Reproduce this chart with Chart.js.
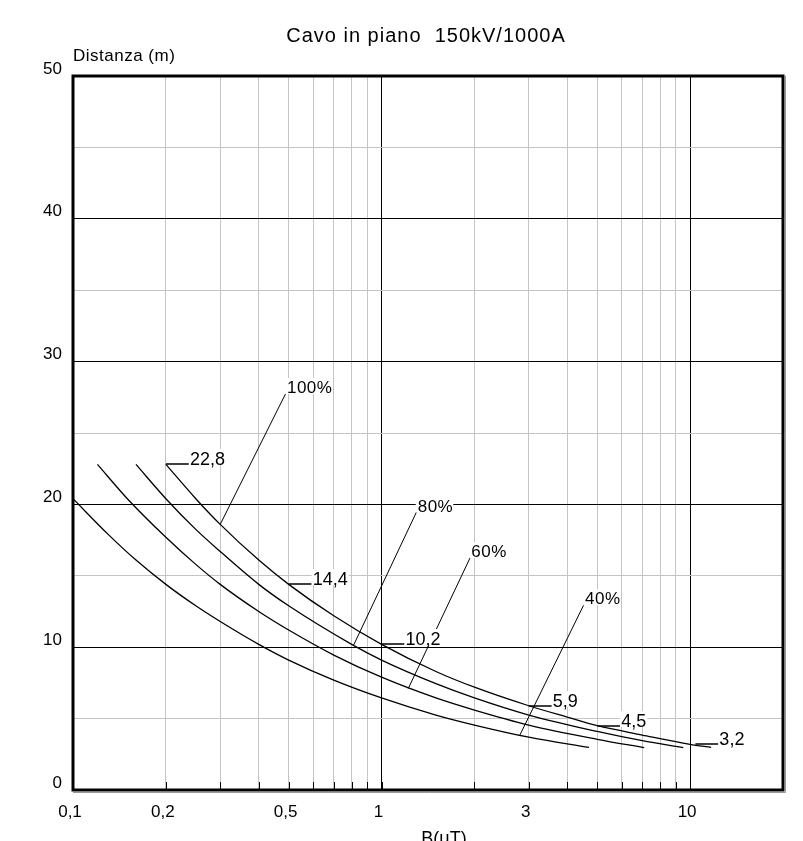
<!DOCTYPE html>
<html lang="it">
<head>
<meta charset="UTF-8">
<title>Cavo in piano 150kV/1000A</title>
<script src="https://cdn.jsdelivr.net/npm/chart.js@4"></script>
<style>
  html, body { margin: 0; padding: 0; background: #fff; }
  canvas { display: block; }
</style>
</head>
<body>
<canvas id="chart" width="803" height="841"></canvas>
<script>
// testi
const titleText = 'Cavo in piano  150kV/1000A';
const yTitle = 'Distanza (m)';
const xTitle = 'B(\u03BCT)';

// assi
const xGridValues = [0.1, 0.2, 0.3, 0.4, 0.5, 0.6, 0.7, 0.8, 0.9, 1, 2, 3, 4, 5, 6, 7, 8, 9, 10, 20];
const xTickValues = [0.1, 0.2, 0.5, 1, 3, 10];
const xTickText = ['0,1', '0,2', '0,5', '1', '3', '10'];
const yTickValues = [0, 10, 20, 30, 40, 50];

// curve: B (uT) e distanza (m)
const curveNames = ['100%', '80%', '60%', '40%'];
const b100 = [0.2, 0.25, 0.3, 0.4, 0.5, 0.7, 1, 1.5, 2, 3, 4, 5, 7, 10, 11.7];
const d100 = [22.8, 20.4, 18.6, 16.1, 14.4, 12.2, 10.2, 8.3, 7.2, 5.9, 5.1, 4.5, 3.85, 3.2, 2.98];
const b80 = [0.16, 0.2, 0.25, 0.3, 0.4, 0.5, 0.8, 1, 1.5, 2, 3, 5, 7, 9.5];
const d80 = [22.8, 20.4, 18.25, 16.7, 14.4, 12.9, 10.2, 9.1, 7.45, 6.45, 5.25, 4.1, 3.45, 2.96];
const b60 = [0.12, 0.15, 0.2, 0.25, 0.3, 0.4, 0.5, 0.7, 1, 1.5, 2, 3, 5, 7.1];
const d60 = [22.8, 20.4, 17.7, 15.8, 14.4, 12.5, 11.2, 9.45, 7.9, 6.45, 5.6, 4.55, 3.55, 2.97];
const b40 = [0.1, 0.13, 0.16, 0.2, 0.25, 0.3, 0.4, 0.5, 0.7, 1, 1.5, 2, 3, 4.7];
const d40 = [20.4, 17.9, 16.1, 14.4, 12.9, 11.8, 10.2, 9.1, 7.7, 6.45, 5.25, 4.55, 3.7, 2.98];

// valori indicati sulla curva 100%
const valueB = [0.2, 0.5, 1, 3, 5, 10.4];
const valueD = [22.8, 14.4, 10.2, 5.9, 4.5, 3.2];
const valueText = ['22,8', '14,4', '10,2', '5,9', '4,5', '3,2'];

// richiami delle percentuali: estremo alto e punto sulla curva
const pctTopB = [0.49, 1.30, 1.94, 4.53];
const pctTopD = [27.8, 19.5, 16.3, 13.0];
const pctCurveB = [0.3, 0.81, 1.22, 2.8];
const pctCurveD = [18.6, 10.1, 7.1, 3.8];

const FONT = '"Liberation Sans", Arial, sans-serif';

function toPoints(bs, ds) {
  return bs.map((b, i) => ({ x: b, y: ds[i] }));
}

const series = [[b100, d100], [b80, d80], [b60, d60], [b40, d40]];

const extras = {
  id: 'extras',
  afterDatasetsDraw(chart) {
    const { ctx, chartArea: a, scales: { x, y } } = chart;
    ctx.save();

    // tacche interne sull'asse x
    ctx.strokeStyle = '#000';
    ctx.lineWidth = 1;
    xGridValues.forEach(v => {
      const px = Math.round(x.getPixelForValue(v)) + 0.5;
      ctx.beginPath(); ctx.moveTo(px, a.bottom); ctx.lineTo(px, a.bottom - 8); ctx.stroke();
    });

    // richiami percentuali
    ctx.font = '17px ' + FONT;
    ctx.letterSpacing = '0.5px';
    ctx.textBaseline = 'alphabetic';
    ctx.textAlign = 'left';
    curveNames.forEach((t, i) => {
      const x0 = x.getPixelForValue(pctTopB[i]), y0 = y.getPixelForValue(pctTopD[i]);
      const x1 = x.getPixelForValue(pctCurveB[i]), y1 = y.getPixelForValue(pctCurveD[i]);
      ctx.strokeStyle = '#000';
      ctx.lineWidth = 1;
      ctx.beginPath(); ctx.moveTo(x0, y0); ctx.lineTo(x1, y1); ctx.stroke();
      const w = ctx.measureText(t).width;
      ctx.fillStyle = '#fff';
      ctx.fillRect(x0 - 1, y0 - 15, w + 2, 16);
      ctx.fillStyle = '#000';
      ctx.fillText(t, x0 + 1, y0);
    });

    // valori sulla curva 100%
    ctx.font = '18px ' + FONT;
    ctx.letterSpacing = '0px';
    valueText.forEach((t, i) => {
      const x0 = x.getPixelForValue(valueB[i]), y0 = Math.round(y.getPixelForValue(valueD[i]));
      ctx.lineWidth = 1.5;
      ctx.beginPath(); ctx.moveTo(x0, y0); ctx.lineTo(x0 + 23, y0); ctx.stroke();
      const w = ctx.measureText(t).width;
      ctx.fillStyle = '#fff';
      ctx.fillRect(x0 + 23, y0 - 15, w + 2, 16);
      ctx.fillStyle = '#000';
      ctx.fillText(t, x0 + 24, y0 + 1);
    });

    // cornice
    ctx.lineWidth = 3;
    ctx.strokeStyle = '#000';
    ctx.strokeRect(a.left, a.top, a.right - a.left, a.bottom - a.top);
    ctx.lineWidth = 1;
    ctx.strokeStyle = '#999';
    ctx.beginPath();
    ctx.moveTo(a.left, a.bottom + 2.5); ctx.lineTo(a.right + 2.5, a.bottom + 2.5); ctx.lineTo(a.right + 2.5, a.top);
    ctx.stroke();

    // titoli
    ctx.fillStyle = '#000';
    ctx.font = '20px ' + FONT;
    ctx.letterSpacing = '1px';
    ctx.textAlign = 'center';
    ctx.textBaseline = 'alphabetic';
    ctx.fillText(titleText, 426, 42);

    ctx.font = '17px ' + FONT;
    ctx.letterSpacing = '0.5px';
    ctx.textAlign = 'left';
    ctx.fillText(yTitle, 73, 61);

    ctx.font = '18px ' + FONT;
    ctx.letterSpacing = '0px';
    ctx.textAlign = 'center';
    ctx.textBaseline = 'top';
    ctx.fillText(xTitle, 444, 830);
    ctx.restore();
  }
};

new Chart(document.getElementById('chart'), {
  type: 'line',
  data: {
    datasets: series.map((s, i) => ({
      label: curveNames[i],
      data: toPoints(s[0], s[1]),
      borderColor: '#000',
      borderWidth: 1.3,
      pointRadius: 0,
      fill: false,
      cubicInterpolationMode: 'monotone'
    }))
  },
  options: {
    responsive: false,
    animation: false,
    events: [],
    layout: { padding: { top: 76, right: 20, left: 0, bottom: 0 } },
    plugins: { legend: { display: false }, title: { display: false }, tooltip: { enabled: false } },
    scales: {
      x: {
        type: 'logarithmic',
        min: 0.1,
        max: 20,
        afterBuildTicks: scale => { scale.ticks = xGridValues.map(v => ({ value: v })); },
        afterFit: scale => { scale.height = 51; },
        ticks: {
          autoSkip: false,
          maxRotation: 0,
          padding: 12,
          labelOffset: -3,
          color: '#000',
          font: { family: FONT, size: 17 },
          callback: v => {
            const k = xTickValues.indexOf(v);
            return k >= 0 ? xTickText[k] : '';
          }
        },
        grid: {
          drawTicks: false,
          lineWidth: 1,
          color: c => (c.tick && (c.tick.value === 1 || c.tick.value === 10)) ? '#000' : '#c4c4c4'
        },
        border: { display: false }
      },
      y: {
        type: 'linear',
        min: 0,
        max: 50,
        afterFit: scale => { scale.width = 73; },
        ticks: {
          stepSize: 5,
          padding: 11,
          labelOffset: -7,
          color: '#000',
          font: { family: FONT, size: 17 },
          callback: v => yTickValues.includes(v) ? String(v) : ''
        },
        grid: {
          drawTicks: false,
          lineWidth: 1,
          color: c => (c.tick && c.tick.value % 10 === 0) ? '#000' : '#c4c4c4'
        },
        border: { display: false }
      }
    }
  },
  plugins: [extras]
});
</script>
</body>
</html>
